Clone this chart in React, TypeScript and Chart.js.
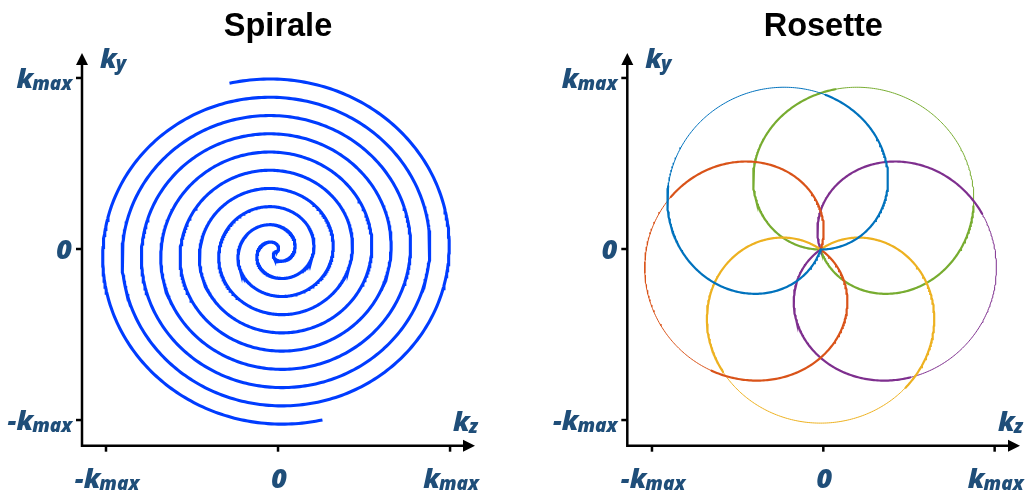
import React, { useEffect, useRef } from "react";
import { Chart, registerables } from "chart.js";

Chart.register(...registerables);

// ---------- axis ticks & labels ----------
const tickValues = [-1, 0, 1];
const tickMain = ["-k", "0", "k"];
const tickSub = ["max", "", "max"];
const axisNameMain = ["k", "k"]; // [horizontal, vertical]
const axisNameSub = ["z", "y"];
const panelTitles = ["Spirale", "Rosette"];

// ---------- Spirale (two interleaved Archimedean arms) ----------
const spiralArmRotationsDeg = [180, 0]; // arm B, arm A
const spiralStartDeg = 191;
const spiralTurnsPerArm = 4.76;
const spiralOuterRadius = 1.017;
const spiralStretchX = 1.054;
const spiralCenter = [-0.012, -0.015];
const spiralColor = "#003cff";

// ---------- Rosette (5 petals) ----------
const rosettePetalAxisDeg = [126, 198, 270, 342, 54];
const rosettePetalColors = ["#0072BD", "#D95319", "#EDB120", "#7E2F8E", "#77AC30"];
const rosettePetalSpanDeg = 252;
const rosetteRadius = 1.015;
const rosetteStretchX = 1.028;
const rosetteCenter = [-0.016, -0.003];
const rosetteThinRange = [0.35, 0.62];

// ---------- view ranges ----------
const spiralRangeX = [-1.1395, 1.145];
const rosetteRangeX = [-1.144, 1.148];
const rangeY = [-1.15, 1.146];

const LABEL_COLOR = "#1f4e79";
const SAMPLES = 1600;
const PETAL_SAMPLES = 400;

function spiralPoints() {
  const pts: { x: number; y: number }[] = [];
  const T = spiralTurnsPerArm * 2 * Math.PI;
  spiralArmRotationsDeg.forEach((rot, armIdx) => {
    for (let i = 0; i <= SAMPLES; i++) {
      const k = armIdx === 0 ? SAMPLES - i : i;
      const th = (k / SAMPLES) * T;
      const r = spiralOuterRadius * (th / T);
      const ang = ((spiralStartDeg + rot) * Math.PI) / 180 + th;
      pts.push({
        x: spiralCenter[0] + spiralStretchX * r * Math.cos(ang),
        y: spiralCenter[1] + r * Math.sin(ang),
      });
    }
  });
  return pts;
}

function petalPoints(axisDeg: number) {
  const pts: { x: number; y: number }[] = [];
  for (let i = 0; i <= PETAL_SAMPLES; i++) {
    const u = i / PETAL_SAMPLES;
    const phi = ((axisDeg + rosettePetalSpanDeg * (u - 0.5)) * Math.PI) / 180;
    const r = rosetteRadius * Math.sin(Math.PI * u);
    pts.push({
      x: rosetteCenter[0] + rosetteStretchX * r * Math.cos(phi),
      y: rosetteCenter[1] + r * Math.sin(phi),
    });
  }
  return pts;
}

const MAIN_FONT = 'italic 800 27px "Open Sans", Lato, "Noto Sans", sans-serif';
const SUB_FONT = 'italic 800 19px "Open Sans", Lato, "Noto Sans", sans-serif';

function drawLabel(ctx: CanvasRenderingContext2D, main: string, sub: string, x: number, y: number, align: string) {
  ctx.font = MAIN_FONT;
  const w1 = ctx.measureText(main).width;
  ctx.font = SUB_FONT;
  const w2 = sub ? ctx.measureText(sub).width : 0;
  const total = w1 + w2 - (sub ? 1 : 0);
  const sx = align === "left" ? x : align === "right" ? x - total : x - total / 2;
  ctx.textAlign = "left";
  ctx.textBaseline = "alphabetic";
  ctx.fillStyle = LABEL_COLOR;
  ctx.font = MAIN_FONT;
  ctx.fillText(main, sx, y);
  if (sub) {
    ctx.font = SUB_FONT;
    ctx.fillText(sub, sx + w1 - 1, y + 2);
  }
}

function axesPlugin(title: string) {
  return {
    id: "kAxes",
    afterDraw(chart: any) {
      const { ctx, chartArea: a, scales } = chart;
      const xs = scales.x;
      const ys = scales.y;
      const x0 = a.left;
      const y0 = a.bottom;
      const arrowLen = 12;
      const arrowHalf = 6;
      ctx.save();
      ctx.strokeStyle = "#000";
      ctx.fillStyle = "#000";
      ctx.lineWidth = 2.5;
      ctx.lineJoin = "miter";
      ctx.lineCap = "butt";
      ctx.beginPath();
      ctx.moveTo(x0, a.top + arrowLen - 1);
      ctx.lineTo(x0, y0);
      ctx.lineTo(a.right - arrowLen + 1, y0);
      ctx.stroke();
      ctx.beginPath();
      ctx.moveTo(a.right, y0);
      ctx.lineTo(a.right - arrowLen, y0 - arrowHalf);
      ctx.lineTo(a.right - arrowLen, y0 + arrowHalf);
      ctx.closePath();
      ctx.fill();
      ctx.beginPath();
      ctx.moveTo(x0, a.top);
      ctx.lineTo(x0 - arrowHalf, a.top + arrowLen);
      ctx.lineTo(x0 + arrowHalf, a.top + arrowLen);
      ctx.closePath();
      ctx.fill();
      tickValues.forEach((v) => {
        const px = xs.getPixelForValue(v);
        ctx.beginPath();
        ctx.moveTo(px, y0);
        ctx.lineTo(px, y0 + 6);
        ctx.stroke();
        const py = ys.getPixelForValue(v);
        ctx.beginPath();
        ctx.moveTo(x0, py);
        ctx.lineTo(x0 - 6, py);
        ctx.stroke();
      });
      tickValues.forEach((v, i) => {
        const px = xs.getPixelForValue(v);
        drawLabel(ctx, tickMain[i], tickSub[i], px + 1, y0 + 42, "center");
        const py = ys.getPixelForValue(v);
        drawLabel(ctx, tickMain[i], tickSub[i], x0 - 10, py + 10, "right");
      });
      drawLabel(ctx, axisNameMain[1], axisNameSub[1], x0 + 18, a.top + 15, "left");
      drawLabel(ctx, axisNameMain[0], axisNameSub[0], a.right + 3, y0 - 15, "right");
      ctx.fillStyle = "#000";
      ctx.font = 'bold 32.5px "Liberation Sans", Arial, Helvetica, sans-serif';
      ctx.textAlign = "center";
      ctx.textBaseline = "alphabetic";
      ctx.fillText(title, xs.getPixelForValue(0), 35.5);
      ctx.restore();
    },
  };
}

function makeConfig(datasets: any[], rangeX: number[], padding: any, title: string) {
  return {
    type: "scatter" as const,
    data: { datasets },
    options: {
      responsive: false,
      animation: false as const,
      devicePixelRatio: 1,
      events: [],
      layout: { padding },
      plugins: {
        legend: { display: false },
        tooltip: { enabled: false },
        title: { display: false },
      },
      elements: { point: { radius: 0 } },
      scales: {
        x: { type: "linear" as const, min: rangeX[0], max: rangeX[1], display: false },
        y: { type: "linear" as const, min: rangeY[0], max: rangeY[1], display: false },
      },
    },
    plugins: [axesPlugin(title)],
  };
}

export default function App() {
  const leftRef = useRef<HTMLCanvasElement>(null);
  const rightRef = useRef<HTMLCanvasElement>(null);

  useEffect(() => {
    const spiralDs = [
      {
        data: spiralPoints(),
        showLine: true,
        borderColor: spiralColor,
        borderWidth: 3.1,
        pointRadius: 0,
        tension: 0,
        fill: false,
      },
    ];
    const petalDs = rosettePetalAxisDeg.map((ax, i) => ({
      data: petalPoints(ax),
      showLine: true,
      borderColor: rosettePetalColors[i],
      borderWidth: 2.2,
      borderCapStyle: "round",
      pointRadius: 0,
      tension: 0,
      fill: false,
      segment: {
        borderWidth: (c: any) => {
          const u = c.p0DataIndex / PETAL_SAMPLES;
          return u >= rosetteThinRange[0] && u <= rosetteThinRange[1] ? 1 : 2.2;
        },
      },
    }));
    const c1 = new Chart(
      leftRef.current!,
      makeConfig(spiralDs, spiralRangeX, { left: 82, right: 38, top: 53, bottom: 49.3 }, panelTitles[0]) as any
    );
    const c2 = new Chart(
      rightRef.current!,
      makeConfig(petalDs, rosetteRangeX, { left: 114.3, right: 6, top: 53, bottom: 49.3 }, panelTitles[1]) as any
    );
    return () => {
      c1.destroy();
      c2.destroy();
    };
  }, []);

  return (
    <div style={{ position: "absolute", left: 0, top: 0, width: 1026, height: 495, background: "#fff" }}>
      <canvas ref={leftRef} width={513} height={495} style={{ position: "absolute", left: 0, top: 0 }} />
      <canvas ref={rightRef} width={513} height={495} style={{ position: "absolute", left: 513, top: 0 }} />
    </div>
  );
}
